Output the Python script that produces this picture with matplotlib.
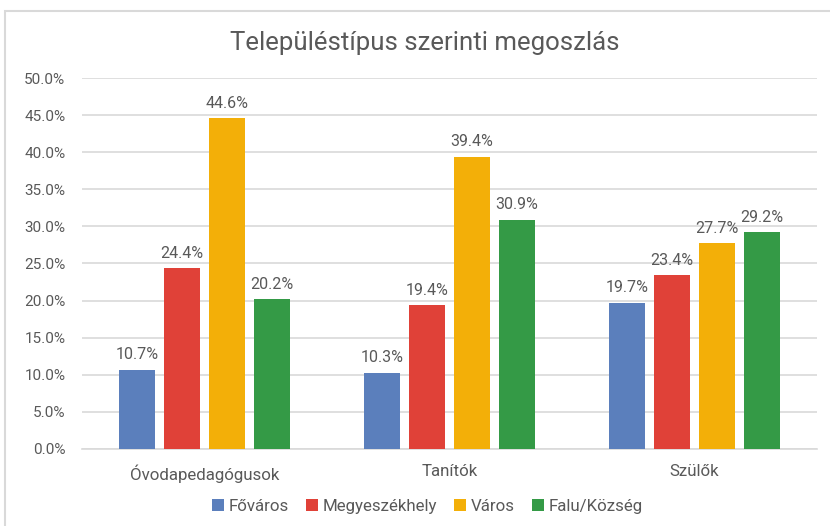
import matplotlib.pyplot as plt
import numpy as np
from matplotlib.ticker import FuncFormatter

plt.rcParams['font.family'] = ['Roboto', 'DejaVu Sans']

# Data
categories = ['Óvodapedagógusok', 'Tanítók', 'Szülők']
series_names = ['Főváros', 'Megyeszékhely', 'Város', 'Falu/Község']
fovaros = [10.7, 10.3, 19.7]
megyeszekhely = [24.4, 19.4, 23.4]
varos = [44.6, 39.4, 27.7]
falu = [20.2, 30.9, 29.2]
colors = ['#5b7fbc', '#e04138', '#f3af08', '#349a46']

values = [fovaros, megyeszekhely, varos, falu]
text_color = '#595959'

fig = plt.figure(figsize=(8.3, 5.26), dpi=100)
ax = fig.add_axes([0.0988, 0.1464, 0.8855, 0.7053])

x = np.arange(len(categories))
slot = 0.1837
bar_w = slot * 0.8
for i, (name, vals, c) in enumerate(zip(series_names, values, colors)):
    pos = x + (i - 1.5) * slot
    bars = ax.bar(pos, vals, width=bar_w, color=c, label=name, zorder=3)
    for b, v in zip(bars, vals):
        ax.text(b.get_x() + b.get_width() / 2, v + 1.0, f'{v:.1f}%',
                ha='center', va='bottom', fontsize=11.5, color=text_color)

ax.set_xlim(-0.5, 2.5)
ax.set_ylim(0, 50)
ax.set_yticks(np.arange(0, 50.1, 5))
ax.yaxis.set_major_formatter(FuncFormatter(lambda v, p: f'{v:.1f}%'))
ax.set_xticks(x)
ax.set_xticklabels(categories)
ax.tick_params(axis='both', length=0, labelsize=11, labelcolor=text_color)
ax.tick_params(axis='x', pad=11, labelsize=12.2)
ax.tick_params(axis='y', pad=12)
ax.grid(axis='y', color='#d9d9d9', linewidth=1.2, zorder=0)
for s in ['top', 'right', 'left']:
    ax.spines[s].set_visible(False)
ax.spines['bottom'].set_color('#d9d9d9')
ax.spines['bottom'].set_linewidth(1.2)

fig.text(0.512, 0.918, 'Településtípus szerinti megoszlás', ha='center', va='center',
         fontsize=18.5, color=text_color)

fig.legend(loc='center', bbox_to_anchor=(0.515, 0.037), ncol=4, frameon=False,
           fontsize=12.2, handlelength=0.7, handleheight=0.7, handletextpad=0.3,
           columnspacing=1.0, labelcolor=text_color)

# figure border
fig.patches.append(plt.Rectangle((0.006, -0.01), 1.0, 0.99, transform=fig.transFigure,
                                 fill=False, edgecolor='#d9d9d9', linewidth=1.5))

fig.savefig('out.png', dpi=100)
